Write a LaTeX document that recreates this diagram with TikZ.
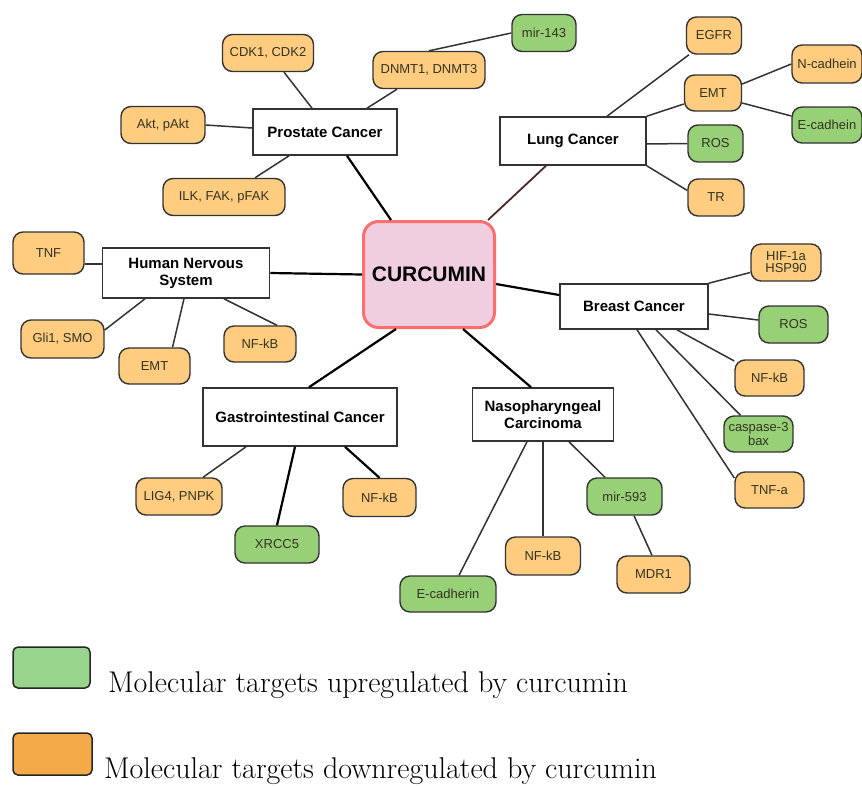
\documentclass[tikz,border=0pt]{standalone}
\usepackage{fontspec}
\newfontfamily\sansf{Liberation Sans}
\definecolor{orfill}{HTML}{FFCC80}
\definecolor{grfill}{HTML}{97D077}
\definecolor{strk}{HTML}{333333}
\definecolor{legor}{HTML}{F4AA48}
\definecolor{leggr}{HTML}{98D48C}
\definecolor{curfill}{HTML}{F0CEDF}
\definecolor{curdraw}{HTML}{FF6F6F}
\definecolor{brownln}{HTML}{4A2A24}
\definecolor{txt}{HTML}{333322}
\tikzset{
  disease/.style={draw=strk, line width=1.6pt, fill=white, inner sep=0pt, align=center,
    font=\sansf\bfseries\fontsize{15}{17}\selectfont},
  tgt/.style={draw=strk, line width=1.4pt, rounded corners=10pt, inner sep=0pt, align=center,
    minimum height=37pt, text=txt, font=\sansf\fontsize{13}{13.5}\selectfont},
  down/.style={tgt, fill=orfill},
  up/.style={tgt, fill=grfill},
  link/.style={draw=strk, line width=1.5pt},
  strong/.style={draw=black, line width=2.2pt},
  legtext/.style={anchor=base west, inner sep=0pt, font=\fontsize{30}{30}\selectfont}
}
\begin{document}
\begin{tikzpicture}[x=1pt,y=-1pt]
\useasboundingbox (0,0) rectangle (862,785);

% central node
\node[draw=curdraw, line width=3pt, fill=curfill, rounded corners=15pt, minimum width=131pt, minimum height=106pt, inner sep=0pt,
  font=\sansf\bfseries\fontsize{21}{23}\selectfont] (cur) at (429,274.5) {CURCUMIN};

% disease nodes
\node[disease, minimum width=144pt, minimum height=46pt] (pc) at (325,132) {Prostate Cancer};
\node[disease, minimum width=146pt, minimum height=48pt] (lc) at (573,141) {Lung Cancer};
\node[disease, minimum width=167pt, minimum height=50pt] (hns) at (186,273) {Human Nervous\\System};
\node[disease, minimum width=148pt, minimum height=45pt] (bc) at (634,306.5) {Breast Cancer};
\node[disease, minimum width=194pt, minimum height=58pt] (gc) at (300,417) {Gastrointestinal Cancer};
\node[disease, minimum width=141pt, minimum height=53pt] (nc) at (543,414.5) {Nasopharyngeal\\Carcinoma};

% prostate targets
\node[down, minimum width=91pt] (cdk) at (268,53) {CDK1, CDK2};
\node[down, minimum width=112pt] (dnmt) at (429,70) {DNMT1, DNMT3};
\node[up, minimum width=64pt] (mir143) at (544,33) {mir-143};
\node[down, minimum width=84pt] (akt) at (163,125) {Akt, pAkt};
\node[down, minimum width=122pt] (ilk) at (224,197) {ILK, FAK, pFAK};

% lung targets
\node[down, minimum width=55pt] (egfr) at (714,35.5) {EGFR};
\node[down, minimum width=57pt, minimum height=36pt] (emt2) at (713,93) {EMT};
\node[down, minimum width=70pt, minimum height=38pt] (ncad) at (827,64) {N-cadhein};
\node[up, minimum width=70pt, minimum height=36pt] (ecad) at (827,125) {E-cadhein};
\node[up, minimum width=55pt] (ros1) at (715.5,143.5) {ROS};
\node[down, minimum width=56pt] (tr) at (716,197.5) {TR};

% nervous system targets
\node[down, minimum width=71pt, minimum height=42pt] (tnf) at (48.5,253) {TNF};
\node[down, minimum width=83pt, minimum height=38pt] (gli) at (62.5,339) {Gli1, SMO};
\node[down, minimum width=71pt, minimum height=36pt] (emt1) at (154.5,366) {EMT};
\node[down, minimum width=72pt, minimum height=36pt] (nf1) at (260,344) {NF-kB};

% breast targets
\node[down, minimum width=70pt, font=\sansf\fontsize{13}{12}\selectfont] (hif) at (786,262.5) {HIF-1a\\HSP90};
\node[up, minimum width=69pt] (ros2) at (793.5,324.5) {ROS};
\node[down, minimum width=69pt, minimum height=36pt] (nf2) at (769.5,378) {NF-kB};
\node[up, minimum width=69pt, minimum height=36pt, font=\sansf\fontsize{13}{12}\selectfont] (casp) at (758.5,434) {caspase-3\\bax};
\node[down, minimum width=69pt, minimum height=36pt] (tnfa) at (769.5,490) {TNF-a};

% gastrointestinal targets
\node[down, minimum width=86pt] (lig) at (179,496.5) {LIG4, PNPK};
\node[up, minimum width=84pt] (xrcc) at (277,544.5) {XRCC5};
\node[down, minimum width=73pt, minimum height=38pt] (nf4) at (379.5,497.5) {NF-kB};

% nasopharyngeal targets
\node[up, minimum width=96pt, minimum height=36pt] (ecadh) at (448,594) {E-cadherin};
\node[down, minimum width=75pt, minimum height=38pt] (nf3) at (543,556) {NF-kB};
\node[up, minimum width=75pt] (mir593) at (624.5,496.5) {mir-593};
\node[down, minimum width=73pt] (mdr1) at (653.5,574.5) {MDR1};

% connectors: prostate
\draw[link] ([xshift=16pt]cdk.south) -- ([xshift=-13pt]pc.north);
\draw[link] ([xshift=-32pt]dnmt.south) -- ([xshift=42pt]pc.north);
\draw[link] (mir143.west) -- (dnmt.north);
\draw[link] (akt.east) -- ([yshift=4pt]pc.west);
\draw[link] ([xshift=31pt]ilk.north) -- ([xshift=-36pt]pc.south);
\draw[strong] ([xshift=22pt]pc.south) -- ([xshift=-38pt]cur.north);

% connectors: lung
\draw[link] ([xshift=34pt]lc.north) -- ([xshift=-25pt]egfr.south);
\draw[link] (lc.north east) -- ([yshift=-11pt]emt2.west);
\draw[link] ([yshift=9pt]emt2.east) -- (ncad.west);
\draw[link] ([yshift=-10pt]emt2.east) -- ([yshift=9pt]ecad.west);
\draw[link] ([yshift=-3pt]lc.east) -- (ros1.west);
\draw[link] (lc.south east) -- ([yshift=7pt]tr.west);
\draw[draw=brownln, line width=1.8pt] ([xshift=-27pt]lc.south) -- ([xshift=59pt]cur.north);

% connectors: nervous system
\draw[link] ([yshift=-11pt]tnf.east) -- ([yshift=9pt]hns.west);
\draw[link] ([xshift=-41pt]hns.south) -- ([yshift=9pt]gli.east);
\draw[link] ([xshift=-2pt]hns.south) -- ([xshift=18pt]emt1.north);
\draw[link] ([xshift=38pt]hns.south) -- ([xshift=17pt]nf1.north);
\draw[strong] (hns.east) -- (cur.west);

% connectors: breast
\draw[strong] ([yshift=-9.5pt]cur.east) -- ([yshift=11.5pt]bc.west);
\draw[link] (bc.north east) -- ([yshift=-10pt]hif.west);
\draw[link] ([yshift=-7.5pt]bc.east) -- ([yshift=4.5pt]ros2.west);
\draw[link] ([xshift=43pt]bc.south) -- ([yshift=17pt]nf2.west);
\draw[link] ([xshift=22pt]bc.south) -- ([xshift=-18pt]casp.north);
\draw[link] ([xshift=3pt]bc.south) -- ([yshift=12pt]tnfa.west);

% connectors: gastrointestinal
\draw[strong] ([xshift=-33pt]cur.south) -- ([xshift=9pt]gc.north);
\draw[link] ([xshift=-54pt]gc.south) -- ([xshift=24pt]lig.north);
\draw[strong] ([xshift=-5pt]gc.south) -- (xrcc.north);
\draw[strong] ([xshift=45pt]gc.south) -- (nf4.north);

% connectors: nasopharyngeal
\draw[strong] ([xshift=34pt]cur.south) -- ([xshift=-12pt]nc.north);
\draw[link] ([xshift=-16pt]nc.south) -- ([xshift=11pt]ecadh.north);
\draw[link] (nc.south) -- (nf3.north);
\draw[link] ([xshift=26pt]nc.south) -- ([xshift=-19.5pt]mir593.north);
\draw[link] ([xshift=9.5pt]mir593.south) -- ([xshift=-1.5pt]mdr1.north);

% legend
\node[draw=black!85, line width=1.5pt, fill=leggr, rounded corners=5pt, minimum width=77pt, minimum height=41pt, inner sep=0pt] (lgup) at (51.5,667.5) {};
\node[draw=black!85, line width=1.5pt, fill=legor, rounded corners=5pt, minimum width=79pt, minimum height=42pt, inner sep=0pt] (lgdown) at (52.5,754) {};
\node[legtext] (lgupt) at (108,692) {Molecular targets upregulated by curcumin};
\node[legtext] (lgdownt) at (104,778) {Molecular targets downregulated by curcumin};
\end{tikzpicture}
\end{document}
